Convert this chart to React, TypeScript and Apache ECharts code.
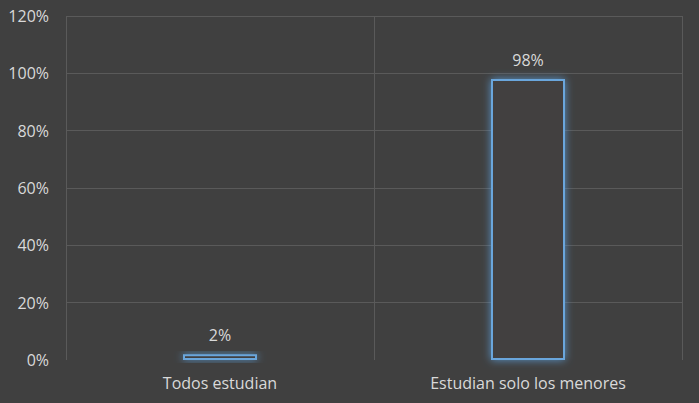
import React, { useEffect, useRef } from "react";
import * as echarts from "echarts";

const categories = ["Todos estudian", "Estudian solo los menores"];
const values = [2, 98];
const yTicks = { min: 0, max: 120, interval: 20 };

export default function App() {
  const ref = useRef<HTMLDivElement>(null);
  useEffect(() => {
    const chart = echarts.init(ref.current!, null, { renderer: "svg" });
    const font = "'Open Sans', sans-serif";
    const grid = "#5a5a5a";
    const G = { left: 66, right: 17, top: 16, bottom: 43 };
    const W = 699;
    const H = 403;
    chart.setOption({
      animation: false,
      backgroundColor: "#404040",
      grid: G,
      graphic: [
        {
          type: "line",
          silent: true,
          z: 0,
          shape: { x1: W - G.right + 0.5, y1: G.top, x2: W - G.right + 0.5, y2: H - G.bottom },
          style: { stroke: grid, lineWidth: 1 },
        },
      ],
      xAxis: {
        type: "category",
        data: categories,
        axisLine: { show: false },
        axisTick: { show: false },
        axisLabel: { color: "#d9d9d9", fontSize: 16, fontFamily: font, margin: 15 },
        splitLine: { show: true, lineStyle: { color: grid, width: 1 } },
      },
      yAxis: {
        type: "value",
        min: yTicks.min,
        max: yTicks.max,
        interval: yTicks.interval,
        axisLine: { show: false },
        axisTick: { show: false },
        axisLabel: {
          color: "#d9d9d9",
          fontSize: 16,
          fontFamily: font,
          margin: 17,
          formatter: (v: number) => v + "%",
        },
        splitLine: {
          lineStyle: {
            color: ["rgba(0,0,0,0)", grid, grid, grid, grid, grid, grid],
            width: 1,
          },
        },
      },
      series: [
        {
          type: "bar",
          data: values,
          barWidth: 74,
          itemStyle: {
            color: "#423f3f",
            borderColor: "#6aa6dc",
            borderWidth: 2,
            shadowBlur: 8,
            shadowColor: "rgba(91,155,213,0.9)",
          },
          label: {
            show: true,
            position: "top",
            distance: 11,
            color: "#d9d9d9",
            fontSize: 16,
            fontFamily: font,
            formatter: (p: any) => p.value + "%",
          },
        },
      ],
    });
    return () => chart.dispose();
  }, []);
  return <div ref={ref} style={{ width: 699, height: 403, position: "absolute", left: 0, top: 0 }} />;
}
